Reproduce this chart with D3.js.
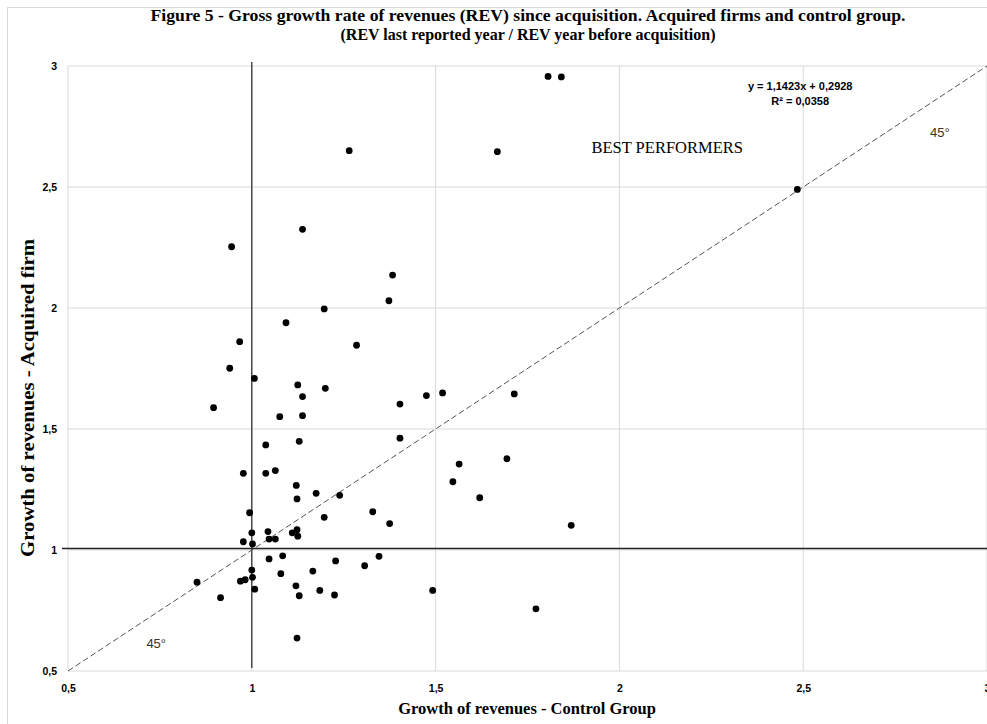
<!DOCTYPE html>
<html>
<head>
<meta charset="utf-8">
<script src="https://cdn.jsdelivr.net/npm/d3@7"></script>
<style>
  body { margin: 0; background: #fff; }
  .grid line { stroke: #d9d9d9; }
  .tick text { font-family: "Liberation Sans", Arial, sans-serif; font-weight: bold; font-size: 10.5px; fill: #000; }
</style>
</head>
<body>
<div id="graph"></div>
<script>

// control group growth (x) and acquired firm growth (y)
var controlGrowth = [
    1.265, 1.138, 0.945, 1.383, 1.373, 1.197, 1.093, 1.285, 0.967, 0.940,
    1.007, 1.125, 1.200, 1.138, 0.896, 1.076, 1.138, 1.403, 1.475, 1.519,
    1.668, 2.484, 1.714, 1.806, 1.842,
    1.038, 1.129, 1.403, 0.977, 1.038, 1.064, 1.564, 1.547, 1.620, 1.121,
    1.123, 1.175, 1.239, 0.994, 1.197, 1.329, 1.375, 1.000, 1.044, 1.110,
    1.123, 1.125, 0.977, 1.002, 1.047, 1.064, 1.047, 1.084, 1.228, 1.307,
    1.346, 1.000, 1.079, 1.166, 0.851, 0.969, 0.982, 1.002, 1.008, 1.120,
    1.129, 1.185, 1.225, 0.915, 1.492, 1.123,
    1.694, 1.869, 1.773
];
var acquiredGrowth = [
    2.650, 2.325, 2.253, 2.136, 2.030, 1.996, 1.939, 1.846, 1.861, 1.751,
    1.709, 1.682, 1.668, 1.634, 1.588, 1.551, 1.555, 1.603, 1.638, 1.649,
    2.646, 2.490, 1.645, 2.957, 2.955,
    1.434, 1.449, 1.462, 1.317, 1.317, 1.328, 1.355, 1.282, 1.216, 1.267,
    1.211, 1.234, 1.226, 1.154, 1.135, 1.158, 1.109, 1.071, 1.076, 1.071,
    1.084, 1.057, 1.034, 1.025, 1.045, 1.045, 0.963, 0.976, 0.955, 0.935,
    0.974, 0.917, 0.902, 0.913, 0.867, 0.871, 0.877, 0.887, 0.838, 0.852,
    0.811, 0.833, 0.814, 0.803, 0.833, 0.636,
    1.377, 1.102, 0.757
];

var xTicks = [0.5, 1, 1.5, 2, 2.5, 3];
var yTicks = [0.5, 1, 1.5, 2, 2.5, 3];

var titleLines = [
    "Figure 5 - Gross growth rate of revenues (REV) since acquisition. Acquired firms and control group.",
    "(REV last reported year / REV year before acquisition)"
];
var titleWidths = [755, 375];
var xTitle = "Growth of revenues - Control Group";
var yTitle = "Growth of revenues  - Acquired firm";
var trendText = ["y = 1,1423x + 0,2928", "R\u00b2 = 0,0358"];

var dataset = controlGrowth.map(function(c, i) { return {x: c, y: acquiredGrowth[i]}; });

var W = 987, H = 724;
var margin = {top: 66, right: 0, bottom: 53, left: 68}
    , width = W - margin.left - margin.right
    , height = H - margin.top - margin.bottom;

var fmt = function(d) { return String(d).replace(".", ","); };

var xScale = d3.scaleLinear().domain([0.5, 3]).range([0, width]);
var yScale = d3.scaleLinear().domain([0.5, 3]).range([height, 0]);

var svgRoot = d3.select("#graph").append("svg")
    .attr("width", W)
    .attr("height", H);

// chart border
svgRoot.append("rect")
    .attr("x", 7.5).attr("y", 7.5)
    .attr("width", W).attr("height", H)
    .attr("fill", "none").attr("stroke", "#d9d9d9");

// title
svgRoot.append("g").selectAll("text")
    .data(titleLines)
    .enter().append("text")
    .attr("x", 528)
    .attr("y", function(d, i) { return 21 + i * 19; })
    .attr("text-anchor", "middle")
    .attr("textLength", function(d, i) { return titleWidths[i]; })
    .attr("lengthAdjust", "spacingAndGlyphs")
    .style("font-family", "'Liberation Serif', 'Times New Roman', serif")
    .style("font-weight", "bold")
    .style("font-size", "16.5px")
    .text(function(d) { return d; });

var svg = svgRoot.append("g")
    .attr("transform", "translate(" + margin.left + "," + margin.top + ")");

// gridlines
svg.append("g").attr("class", "grid")
    .selectAll("line").data(xTicks)
    .enter().append("line")
    .attr("x1", function(d) { return xScale(d); })
    .attr("x2", function(d) { return xScale(d); })
    .attr("y1", 0).attr("y2", height);

svg.append("g").attr("class", "grid")
    .selectAll("line").data(yTicks)
    .enter().append("line")
    .attr("x1", 0).attr("x2", width)
    .attr("y1", function(d) { return yScale(d); })
    .attr("y2", function(d) { return yScale(d); });

// axes (labels only)
var xAxis = svg.append("g")
    .attr("transform", "translate(0," + height + ")")
    .call(d3.axisBottom(xScale).tickValues(xTicks).tickFormat(fmt).tickSize(0).tickPadding(14));
xAxis.select(".domain").remove();

var yAxis = svg.append("g")
    .call(d3.axisLeft(yScale).tickValues(yTicks).tickFormat(fmt).tickSize(0).tickPadding(11));
yAxis.select(".domain").remove();

// reference lines through 1
svg.append("line")
    .attr("x1", xScale(1)).attr("x2", xScale(1))
    .attr("y1", yScale(3) - 4).attr("y2", yScale(0.5) - 3)
    .attr("stroke", "#333").attr("stroke-width", 1.3);

svg.append("line")
    .attr("x1", -6).attr("x2", width)
    .attr("y1", yScale(1) - 1.5).attr("y2", yScale(1) - 1.5)
    .attr("stroke", "#222").attr("stroke-width", 1.3);

// 45 degree line
svg.append("line")
    .attr("x1", xScale(0.5)).attr("y1", yScale(0.5))
    .attr("x2", xScale(3)).attr("y2", yScale(3))
    .attr("stroke", "#555").attr("stroke-width", 1)
    .attr("stroke-dasharray", "6,3");

// dots
svg.selectAll(".dot")
    .data(dataset)
    .enter().append("circle")
    .attr("class", "dot")
    .attr("cx", function(d) { return xScale(d.x); })
    .attr("cy", function(d) { return yScale(d.y); })
    .attr("r", 3.4)
    .attr("fill", "#000");

// annotations
svg.append("g").selectAll("text")
    .data(trendText)
    .enter().append("text")
    .attr("x", xScale(2.5) - 3)
    .attr("y", function(d, i) { return 24 + i * 15; })
    .attr("text-anchor", "middle")
    .style("font-family", "'Liberation Sans', Arial, sans-serif")
    .style("font-weight", "bold")
    .style("font-size", "11px")
    .text(function(d) { return d; });

svg.append("text")
    .attr("x", xScale(2.13)).attr("y", 87)
    .attr("text-anchor", "middle")
    .style("font-family", "'Liberation Serif', 'Times New Roman', serif")
    .style("font-size", "16.5px")
    .text("BEST PERFORMERS");

svg.append("text")
    .attr("x", xScale(2.872)).attr("y", 71)
    .attr("text-anchor", "middle")
    .style("font-family", "'Liberation Sans', Arial, sans-serif")
    .style("font-size", "13px")
    .attr("fill", "#333")
    .text("45\u00b0");

svg.append("text")
    .attr("x", xScale(0.74)).attr("y", 582)
    .attr("text-anchor", "middle")
    .style("font-family", "'Liberation Sans', Arial, sans-serif")
    .style("font-size", "13px")
    .attr("fill", "#333")
    .text("45\u00b0");

// axis titles
svgRoot.append("text")
    .attr("x", 527).attr("y", 714)
    .attr("text-anchor", "middle")
    .style("font-family", "'Liberation Serif', 'Times New Roman', serif")
    .style("font-weight", "bold")
    .style("font-size", "16.5px")
    .text(xTitle);

svgRoot.append("text")
    .attr("transform", "translate(34,398) rotate(-90)")
    .attr("text-anchor", "middle")
    .attr("textLength", 318)
    .attr("lengthAdjust", "spacingAndGlyphs")
    .style("font-family", "'Liberation Serif', 'Times New Roman', serif")
    .style("font-weight", "bold")
    .style("font-size", "18px")
    .text(yTitle);

</script>
</body>
</html>
